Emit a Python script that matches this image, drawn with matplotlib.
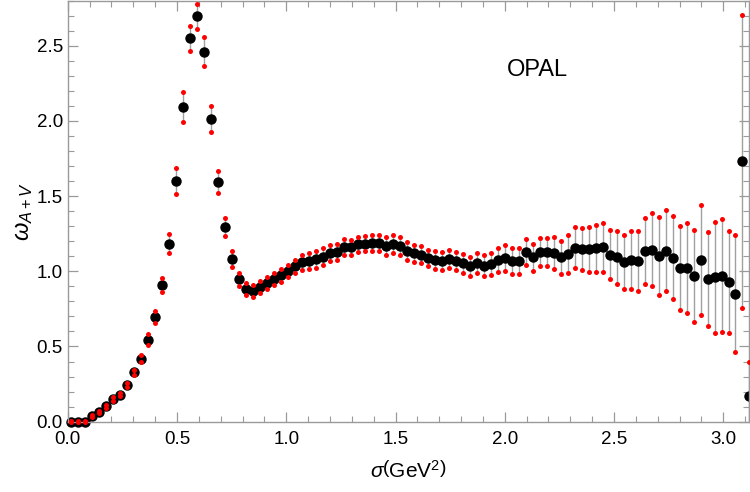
import numpy as np
import matplotlib.pyplot as plt
from matplotlib.ticker import MultipleLocator, FormatStrFormatter

plt.rcParams['font.family'] = ['Liberation Sans', 'DejaVu Sans']
plt.rcParams['mathtext.fontset'] = 'custom'
plt.rcParams['mathtext.rm'] = 'Liberation Sans'
plt.rcParams['mathtext.it'] = 'Liberation Sans:italic'

# bin centres (GeV^2)
sigma = [0.016, 0.048, 0.080, 0.112, 0.144, 0.176, 0.208, 0.240, 0.272, 0.304,
         0.336, 0.368, 0.400, 0.432, 0.464, 0.496, 0.528, 0.560, 0.592, 0.624,
         0.656, 0.688, 0.720, 0.752, 0.784, 0.816, 0.848, 0.880, 0.912, 0.944,
         0.976, 1.008, 1.040, 1.072, 1.104, 1.136, 1.168, 1.200, 1.232, 1.264,
         1.296, 1.328, 1.360, 1.392, 1.424, 1.456, 1.488, 1.520, 1.552, 1.584,
         1.616, 1.648, 1.680, 1.712, 1.744, 1.776, 1.808, 1.840, 1.872, 1.904,
         1.936, 1.968, 2.000, 2.032, 2.064, 2.096, 2.128, 2.160, 2.192, 2.224,
         2.256, 2.288, 2.320, 2.352, 2.384, 2.416, 2.448, 2.480, 2.512, 2.544,
         2.576, 2.608, 2.640, 2.672, 2.704, 2.736, 2.768, 2.800, 2.832, 2.864,
         2.896, 2.928, 2.960, 2.992, 3.024, 3.056, 3.088, 3.120]

omega = [0.000, 0.000, 0.000, 0.036, 0.066, 0.104, 0.151, 0.180, 0.242, 0.330,
         0.419, 0.545, 0.696, 0.909, 1.184, 1.603, 2.095, 2.549, 2.697, 2.460,
         2.013, 1.595, 1.295, 1.081, 0.948, 0.884, 0.872, 0.898, 0.920, 0.950,
         0.973, 1.003, 1.032, 1.061, 1.066, 1.080, 1.098, 1.124, 1.128, 1.162,
         1.161, 1.180, 1.184, 1.190, 1.189, 1.169, 1.181, 1.167, 1.135, 1.120,
         1.109, 1.088, 1.075, 1.068, 1.080, 1.070, 1.053, 1.034, 1.055, 1.038,
         1.046, 1.075, 1.088, 1.068, 1.068, 1.128, 1.093, 1.128, 1.128, 1.120,
         1.093, 1.115, 1.157, 1.148, 1.146, 1.153, 1.160, 1.110, 1.093, 1.062,
         1.075, 1.071, 1.137, 1.144, 1.104, 1.137, 1.090, 1.020, 1.022, 0.969,
         1.075, 0.949, 0.960, 0.971, 0.931, 0.851, 1.733, 0.170]

err = [0.005, 0.005, 0.005, 0.006, 0.008, 0.010, 0.012, 0.012, 0.014, 0.017,
       0.024, 0.036, 0.040, 0.047, 0.061, 0.086, 0.100, 0.084, 0.083, 0.096,
       0.088, 0.073, 0.062, 0.051, 0.043, 0.040, 0.040, 0.040, 0.040, 0.040,
       0.041, 0.042, 0.046, 0.050, 0.054, 0.058, 0.058, 0.054, 0.054, 0.051,
       0.050, 0.050, 0.052, 0.053, 0.055, 0.058, 0.060, 0.061, 0.058, 0.057,
       0.056, 0.056, 0.057, 0.058, 0.059, 0.060, 0.061, 0.062, 0.064, 0.068,
       0.073, 0.080, 0.085, 0.086, 0.084, 0.088, 0.088, 0.093, 0.096, 0.106,
       0.109, 0.127, 0.135, 0.138, 0.151, 0.158, 0.164, 0.164, 0.175, 0.182,
       0.195, 0.200, 0.219, 0.244, 0.260, 0.270, 0.277, 0.280, 0.300, 0.304,
       0.366, 0.311, 0.370, 0.376, 0.338, 0.389, 0.974, 0.225]

sigma = np.array(sigma)
omega = np.array(omega)
err = np.array(err)
lo = omega - err
hi = omega + err

ymax = 2.8
xmax = 3.12

fig = plt.figure(figsize=(7.5, 4.92), dpi=100)
ax = fig.add_axes([0.0904, 0.1429, 0.9089, 0.8559])

ax.vlines(sigma, lo, hi, color='#a0a0a0', linewidth=1.0, zorder=1)
ax.plot(sigma, omega, 'o', color='black', markersize=6.5, clip_on=False, zorder=2)
ax.plot(sigma[hi <= ymax], hi[hi <= ymax], 'o', color='red', markersize=3.6,
        markeredgewidth=0, clip_on=False, zorder=3)
ax.plot(sigma[lo >= -0.01], lo[lo >= -0.01], 'o', color='red', markersize=3.6,
        markeredgewidth=0, clip_on=False, zorder=3)

ax.set_xlim(0, xmax)
ax.set_ylim(0, ymax)

ax.xaxis.set_major_locator(MultipleLocator(0.5))
ax.xaxis.set_minor_locator(MultipleLocator(0.1))
ax.yaxis.set_major_locator(MultipleLocator(0.5))
ax.yaxis.set_minor_locator(MultipleLocator(0.1))
ax.xaxis.set_major_formatter(FormatStrFormatter('%.1f'))
ax.yaxis.set_major_formatter(FormatStrFormatter('%.1f'))

for s in ax.spines.values():
    s.set_color('#9a9a9a')
    s.set_linewidth(1.0)
ax.tick_params(which='both', direction='in', top=True, right=True,
               color='#9a9a9a', labelsize=13.5)
ax.tick_params(which='major', length=7, width=0.9)
ax.tick_params(which='minor', length=4, width=0.8)
ax.tick_params(axis='x', pad=7)
ax.tick_params(axis='y', pad=3.5)

ax.set_xlabel(r'$\sigma\left(\mathrm{GeV}^2\right)$', fontsize=15, labelpad=8)
ax.set_ylabel(r'$\omega_{A+V}$', fontsize=17, labelpad=1)

ax.text(2.15, 2.34, 'OPAL', fontsize=17, ha='center', va='center')

fig.savefig('out.png', dpi=100)
